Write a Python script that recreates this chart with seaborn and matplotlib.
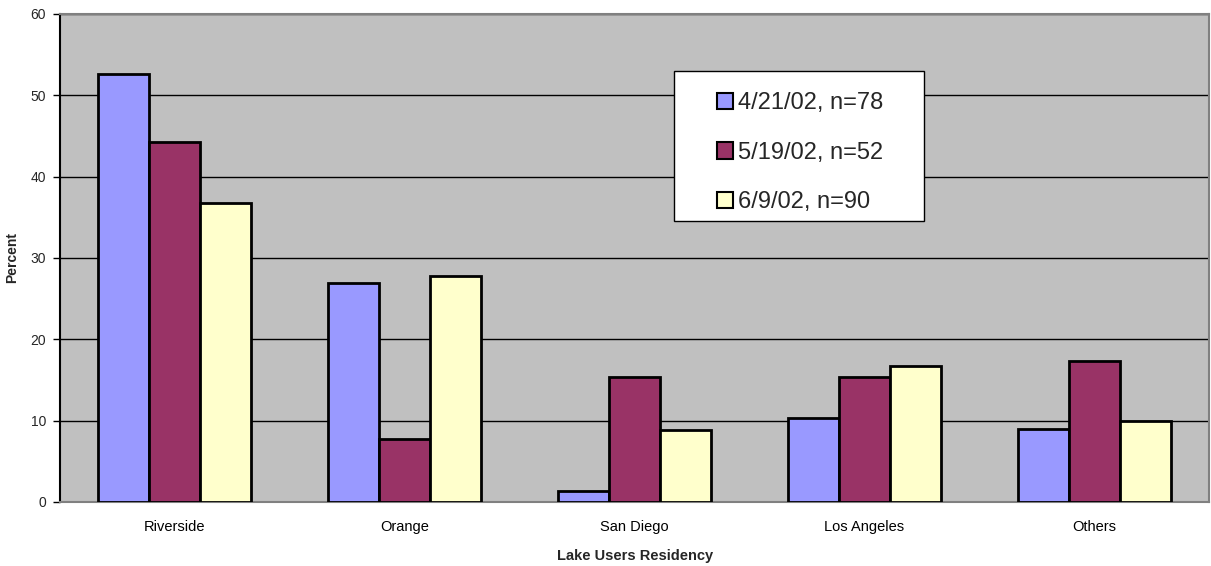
import matplotlib
matplotlib.use("Agg")
import matplotlib.pyplot as plt
import seaborn as sns
import pandas as pd
from matplotlib.ticker import FixedLocator
from matplotlib.patches import Rectangle

# Residency of lake users, percent by survey date
categories = ["Riverside", "Orange", "San Diego", "Los Angeles", "Others"]
series_names = ["4/21/02, n=78", "5/19/02, n=52", "6/9/02, n=90"]
apr21 = [52.6, 26.9, 1.3, 10.3, 9.0]
may19 = [44.2, 7.7, 15.4, 15.4, 17.3]
jun09 = [36.7, 27.8, 8.9, 16.7, 10.0]
y_ticks = [0, 10, 20, 30, 40, 50, 60]

colors = ["#9999FF", "#993366", "#FFFFCC"]

rows = []
for name, vals in zip(series_names, [apr21, may19, jun09]):
    for cat, v in zip(categories, vals):
        rows.append({"Residency": cat, "Survey": name, "Percent": v})
df = pd.DataFrame(rows)

sns.set_style("white")
plt.rcParams["font.family"] = ["Liberation Sans", "DejaVu Sans"]

fig, ax = plt.subplots(figsize=(12.11, 5.66), dpi=100)
fig.subplots_adjust(left=0.0495, right=0.9985, top=0.9753, bottom=0.1131)

sns.barplot(data=df, x="Residency", y="Percent", hue="Survey",
            order=categories, hue_order=series_names, palette=colors,
            width=0.665, edgecolor="black", linewidth=2, saturation=1,
            ax=ax, zorder=3)

ax.set_facecolor("#C0C0C0")
ax.set_ylim(0, 60)
ax.set_xlim(-0.5, 4.5)
ax.set_yticks(y_ticks)
ax.yaxis.grid(True, color="black", linewidth=1, zorder=1)
ax.set_axisbelow(True)

# Category ticks sit between groups
ax.tick_params(axis="x", which="major", length=0, labelsize=10.5, pad=13, colors="black")
ax.xaxis.set_minor_locator(FixedLocator([0.5, 1.5, 2.5, 3.5]))
ax.tick_params(axis="x", which="minor", length=5, width=1, color="black", direction="out")
ax.tick_params(axis="y", length=5, width=1, color="black", direction="out",
               labelsize=10, pad=5, left=True)

for side in ["top", "right", "bottom"]:
    ax.spines[side].set_color("#808080")
    ax.spines[side].set_linewidth(1.5)
ax.spines["left"].set_color("black")
ax.spines["left"].set_linewidth(1.5)

ax.set_xlabel("Lake Users Residency", fontsize=10.5, fontweight="bold")
ax.xaxis.set_label_coords(0.5, -0.097)
ax.set_ylabel("Percent", fontsize=10, fontweight="bold")
ax.yaxis.set_label_coords(-0.0357, 0.5)

# Legend box
frame = Rectangle((0.5339, 0.5758), 0.2183, 0.3074, transform=ax.transAxes,
                  facecolor="white", edgecolor="black", linewidth=1, zorder=5)
ax.add_patch(frame)

leg = ax.legend(loc="upper left", bbox_to_anchor=(0.5713, 0.840), borderaxespad=0,
                fontsize=17, frameon=False, borderpad=0,
                handlelength=0.7, handleheight=0.7, handletextpad=0.2,
                labelspacing=1.17)
leg.set_zorder(6)
for h in leg.legend_handles:
    h.set_edgecolor("black")
    h.set_linewidth(1.5)

fig.savefig("out.png", dpi=100)
